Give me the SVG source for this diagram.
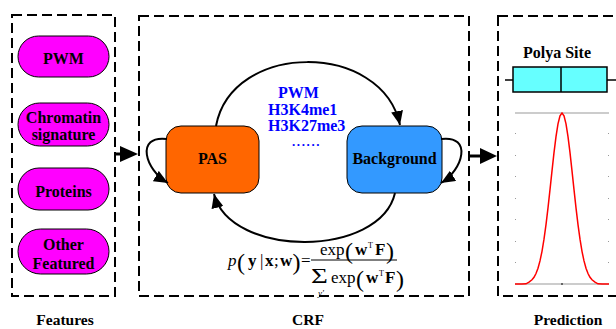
<svg xmlns="http://www.w3.org/2000/svg" width="616" height="329" viewBox="0 0 616 329">
<defs>
<style>
.frame{fill:none;stroke:#000;stroke-width:2;stroke-dasharray:10 5}
.pill{fill:#FF00FF;stroke:#000;stroke-width:1}
.lbl{font-family:"Liberation Serif","Times New Roman",serif;font-weight:bold;font-size:16px;fill:#000;text-anchor:middle}
.cap{font-family:"Liberation Serif","Times New Roman",serif;font-weight:bold;font-size:15.5px;fill:#000;text-anchor:middle}
.blue{font-family:"Liberation Serif","Times New Roman",serif;font-weight:bold;font-size:16px;fill:#0000FF}
.m{font-family:"Liberation Serif","Times New Roman",serif;font-size:17px;fill:#000}
.b{font-weight:bold}
.i{font-style:italic}
.sup{font-size:8px}
.sub{font-size:9px}
.par{font-family:"Liberation Serif","Times New Roman",serif;font-size:24px;fill:#000}
.conn{fill:none;stroke:#000;stroke-width:2}
.grid{fill:#999}
</style>
<marker id="ah" viewBox="0 0 14 12" refX="14" refY="6" markerWidth="14" markerHeight="12" markerUnits="userSpaceOnUse" orient="auto">
<path d="M0,0 L14,6 L0,12 z" fill="#000"/>
</marker>
</defs>
<rect width="616" height="329" fill="#fff"/>

<g id="features">
<rect class="frame" x="12" y="15" width="103" height="281"/>
<g id="pwm-feature"><rect class="pill" x="18" y="36" width="91" height="41" rx="20.5"/><text class="lbl" x="63.5" y="64">PWM</text></g>
<g id="chromatin"><rect class="pill" x="18" y="103" width="91" height="43" rx="21.5"/><text class="lbl" x="63.5" y="123">Chromatin</text><text class="lbl" x="63.5" y="140">signature</text></g>
<g id="proteins"><rect class="pill" x="18" y="168" width="91" height="42" rx="21"/><text class="lbl" x="63.5" y="197">Proteins</text></g>
<g id="other"><rect class="pill" x="18" y="229" width="91" height="45" rx="22.5"/><text class="lbl" x="63.5" y="250">Other</text><text class="lbl" x="63.5" y="269">Featured</text></g>
<text class="cap" x="65" y="325">Features</text>
</g>

<g id="crf">
<rect class="frame" x="139" y="16" width="330" height="280"/>
<text class="cap" x="308" y="325">CRF</text>
<text class="blue" x="298.5" y="98" text-anchor="middle">PWM</text>
<text class="blue" x="268" y="115">H3K4me1</text>
<text class="blue" x="268" y="131">H3K27me3</text>
<text class="blue" x="292" y="146" style="font-size:13px;letter-spacing:1.6px">......</text>
</g>

<g id="pas">
<rect x="166" y="126" width="93" height="67" rx="15" fill="#FF6600" stroke="#000" stroke-width="1"/>
<text class="lbl" x="212.5" y="164">PAS</text>
</g>

<g id="background">
<rect x="347" y="126" width="95" height="67" rx="15" fill="#3399FF" stroke="#000" stroke-width="1"/>
<text class="lbl" x="394.5" y="164">Background</text>
</g>

<g id="formula">
<text class="m i" x="228" y="266">p</text>
<text class="par" x="237" y="270">(</text>
<text class="m b" x="248" y="266">y</text>
<text class="m" x="260" y="266">|</text>
<text class="m b" x="265" y="266">x</text>
<text class="m" x="274" y="266">;</text>
<text class="m b" x="280" y="266">w</text>
<text class="par" x="292.5" y="270">)</text>
<text class="m" x="301" y="266">=</text>
<text class="m" x="320" y="255">exp</text>
<text class="par" x="345" y="259">(</text>
<text class="m b" x="355" y="255">w</text>
<text class="m sup" x="368" y="248">T</text>
<text class="m b" x="375" y="255">F</text>
<text class="par" x="386" y="259">)</text>
<line x1="311" y1="260" x2="397" y2="260" stroke="#000" stroke-width="1"/>
<text class="m" style="font-size:20px" transform="translate(311,282.5) scale(1.45,1)">Σ</text>
<text class="m i sub" x="318" y="295.5">y'</text>
<text class="m" x="331" y="283">exp</text>
<text class="par" x="356" y="287">(</text>
<text class="m b" x="366" y="283">w</text>
<text class="m sup" x="379" y="276">T</text>
<text class="m b" x="385" y="283">F</text>
<text class="par" x="396" y="287">)</text>
</g>

<g id="prediction">
<rect class="frame" x="498" y="16" width="130" height="280"/>
<text class="lbl" x="557" y="58">Polya Site</text>
<line x1="505" y1="80" x2="513" y2="80" stroke="#000" stroke-width="1.5"/>
<line x1="607" y1="80" x2="616" y2="80" stroke="#000" stroke-width="1.5"/>
<rect x="513" y="67" width="94" height="25" fill="#66FFFF" stroke="#000" stroke-width="1.5"/>
<line x1="561" y1="67" x2="561" y2="92" stroke="#000" stroke-width="1.5"/>
<line x1="515" y1="113" x2="609" y2="113" stroke="#bbb" stroke-width="1.5"/>
<line x1="515" y1="284" x2="609" y2="284" stroke="#bbb" stroke-width="1.5"/>
<g class="grid">
<rect x="515" y="133" width="1" height="1"/><rect x="515" y="155" width="1" height="1"/><rect x="515" y="176" width="1" height="1"/><rect x="515" y="198" width="1" height="1"/><rect x="515" y="219" width="1" height="1"/><rect x="515" y="241" width="1" height="1"/><rect x="515" y="262" width="1" height="1"/>
<rect x="608" y="133" width="1" height="1"/><rect x="608" y="155" width="1" height="1"/><rect x="608" y="176" width="1" height="1"/><rect x="608" y="198" width="1" height="1"/><rect x="608" y="219" width="1" height="1"/><rect x="608" y="241" width="1" height="1"/><rect x="608" y="262" width="1" height="1"/>
<rect x="561" y="283" width="2" height="2" fill="#666"/>
</g>
<path d="M515,284 L522,284 L526,283.8 L529,282.1 L532,279.8 L534,277.3 L536,273.5 L538,268.2 L540,260.9 L542,251.3 L544,239.2 L546,224.6 L548,207.9 L550,189.7 L552,170.9 L554,152.7 L556,136.6 L558,123.9 L560,115.8 L562,113 L564,115.8 L566,123.9 L568,136.6 L570,152.7 L572,170.9 L574,189.7 L576,207.9 L578,224.6 L580,239.2 L582,251.3 L584,260.9 L586,268.2 L588,273.5 L590,277.3 L592,279.8 L595,282.1 L598,283.8 L602,284 L609,284" fill="none" stroke="#FF0000" stroke-width="1.5"/>
<text class="cap" x="568" y="325">Prediction</text>
</g>

<g id="connectors">
<path class="conn" d="M216,126 C232,41 382,41 400,125" marker-end="url(#ah)"/>
<path class="conn" d="M395,193 C380,258 230,258 214,194" marker-end="url(#ah)"/>
<path class="conn" d="M167,139 C135,135 145,170 168,183" marker-end="url(#ah)"/>
<path class="conn" d="M441,139 C473,135 463,170 441,183" marker-end="url(#ah)"/>
<line x1="116" y1="154" x2="124" y2="154" stroke="#000" stroke-width="3"/>
<polygon points="120,146 138,154 120,162" fill="#000"/>
<line x1="469" y1="156" x2="483" y2="156" stroke="#000" stroke-width="3"/>
<polygon points="480,148 497,156 480,164" fill="#000"/>
</g>
</svg>
